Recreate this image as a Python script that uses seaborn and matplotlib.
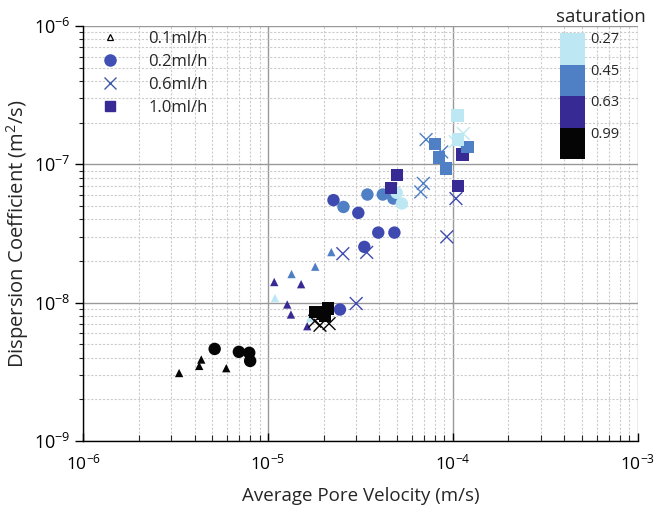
import numpy as np
import pandas as pd
import matplotlib
matplotlib.use("Agg")
import matplotlib.pyplot as plt
import seaborn as sns
from matplotlib.colors import ListedColormap, BoundaryNorm
from matplotlib.lines import Line2D
from matplotlib.ticker import LogLocator, NullFormatter

# ---- data (velocity m/s, dispersion m2/s, saturation) ----
tri_v = [3.30e-6, 4.24e-6, 4.35e-6, 5.94e-6,
         1.08e-5, 1.27e-5, 1.33e-5, 1.51e-5, 1.63e-5,
         1.34e-5, 1.80e-5, 2.20e-5,
         1.09e-5, 1.69e-5]
tri_d = [3.10e-9, 3.49e-9, 3.88e-9, 3.36e-9,
         1.41e-8, 9.70e-9, 8.21e-9, 1.36e-8, 6.76e-9,
         1.61e-8, 1.82e-8, 2.32e-8,
         1.08e-8, 7.75e-9]
tri_s = [0.99, 0.99, 0.99, 0.99,
         0.63, 0.63, 0.63, 0.63, 0.63,
         0.45, 0.45, 0.45,
         0.27, 0.27]

cir_v = [5.14e-6, 6.95e-6, 7.91e-6, 8.00e-6,
         2.26e-5, 3.08e-5, 3.95e-5, 4.83e-5, 3.32e-5, 2.45e-5,
         2.56e-5, 3.45e-5, 4.18e-5, 4.77e-5,
         4.97e-5, 5.30e-5]
cir_d = [4.63e-9, 4.41e-9, 4.34e-9, 3.79e-9,
         5.51e-8, 4.46e-8, 3.21e-8, 3.21e-8, 2.53e-8, 8.92e-9,
         4.92e-8, 6.05e-8, 6.05e-8, 5.66e-8,
         6.22e-8, 5.21e-8]
cir_s = [0.99, 0.99, 0.99, 0.99,
         0.63, 0.63, 0.63, 0.63, 0.63, 0.63,
         0.45, 0.45, 0.45, 0.45,
         0.27, 0.27]

x_v = [1.79e-5, 1.91e-5, 2.14e-5,
       3.00e-5, 2.54e-5, 3.42e-5, 9.28e-5, 1.04e-4,
       7.17e-5, 8.71e-5, 6.93e-5, 6.71e-5,
       1.14e-4, 1.03e-4]
x_d = [7.35e-9, 6.87e-9, 7.06e-9,
       9.86e-9, 2.26e-8, 2.31e-8, 2.99e-8, 5.66e-8,
       1.51e-7, 1.23e-7, 7.28e-8, 6.32e-8,
       1.67e-7, 1.46e-7]
x_s = [0.99, 0.99, 0.99,
       0.63, 0.63, 0.63, 0.63, 0.63,
       0.45, 0.45, 0.45, 0.45,
       0.27, 0.27]

sq_v = [1.81e-5, 1.99e-5, 2.03e-5, 2.11e-5,
        4.62e-5, 5.00e-5, 1.13e-4, 1.07e-4,
        8.02e-5, 8.40e-5, 9.18e-5, 1.20e-4,
        1.06e-4, 1.07e-4]
sq_d = [8.58e-9, 8.35e-9, 7.98e-9, 9.07e-9,
        6.77e-8, 8.36e-8, 1.18e-7, 7.00e-8,
        1.40e-7, 1.12e-7, 9.34e-8, 1.34e-7,
        2.26e-7, 1.51e-7]
sq_s = [0.99, 0.99, 0.99, 0.99,
        0.63, 0.63, 0.63, 0.63,
        0.45, 0.45, 0.45, 0.45,
        0.27, 0.27]

flow_labels = ["0.1ml/h", "0.2ml/h", "0.6ml/h", "1.0ml/h"]
sat_levels = [0.27, 0.45, 0.63, 0.99]

sat_colors = {0.27: "#bde8f3", 0.45: "#4f7fc4", 0.63: "#372a95", 0.99: "#050505"}
# circles and crosses were drawn with a bluer shade for the 0.63 group
blue_colors = dict(sat_colors)
blue_colors[0.63] = "#3f4ab0"

sns.set_theme(style="white")
plt.rcParams["font.family"] = ["Open Sans", "DejaVu Sans"]
plt.rcParams["mathtext.fontset"] = "custom"
plt.rcParams["mathtext.rm"] = "Open Sans"

fig = plt.figure(figsize=(6.54, 5.15), dpi=100)
ax = fig.add_axes([0.1274, 0.1437, 0.8474, 0.8058])

groups = [
    (flow_labels[0], tri_v, tri_d, tri_s, "^", 36, sat_colors, 0),
    (flow_labels[1], cir_v, cir_d, cir_s, "o", 80, blue_colors, 0),
    (flow_labels[2], x_v, x_d, x_s, "x", 85, blue_colors, 1.0),
    (flow_labels[3], sq_v, sq_d, sq_s, "s", 80, sat_colors, 0),
]
for name, v, d, s, mk, size, pal, lw in groups:
    df = pd.DataFrame({"velocity": v, "dispersion": d, "saturation": s})
    sns.scatterplot(data=df, x="velocity", y="dispersion", hue="saturation",
                    palette=pal, marker=mk, s=size, linewidth=lw,
                    edgecolor=None if mk == "x" else "none",
                    legend=False, ax=ax, zorder=3)

ax.set_xscale("log")
ax.set_yscale("log")
ax.set_xlim(1e-6, 1e-3)
ax.set_ylim(1e-9, 1e-6)

ax.xaxis.set_major_locator(LogLocator(base=10, numticks=10))
ax.yaxis.set_major_locator(LogLocator(base=10, numticks=10))
ax.xaxis.set_minor_locator(LogLocator(base=10, subs=np.arange(2, 10), numticks=40))
ax.yaxis.set_minor_locator(LogLocator(base=10, subs=np.arange(2, 10), numticks=40))
ax.xaxis.set_minor_formatter(NullFormatter())
ax.yaxis.set_minor_formatter(NullFormatter())

ax.grid(True, which="major", color="#999999", linewidth=1.0, linestyle="-")
ax.grid(True, which="minor", color="#cccccc", linewidth=0.8, linestyle=(0, (2, 1.5)))
ax.set_axisbelow(True)

for side in ["top", "right"]:
    ax.spines[side].set_visible(False)
for side in ["left", "bottom"]:
    ax.spines[side].set_color("black")
    ax.spines[side].set_linewidth(1.0)

ax.tick_params(axis="x", which="major", direction="in", length=6, width=1,
               labelsize=12.5, pad=9, bottom=True, colors="black")
ax.tick_params(axis="x", which="minor", direction="in", length=4, width=0.8, bottom=True)
ax.tick_params(axis="y", which="major", direction="out", length=6, width=1,
               labelsize=13, pad=3, left=True, colors="black")
ax.tick_params(axis="y", which="minor", direction="out", length=3, width=0.8, left=True)

ax.set_xlabel("Average Pore Velocity (m/s)", fontsize=13.5, labelpad=10)
ax.set_ylabel("Dispersion Coefficient (m$^2$/s)", fontsize=14.5, labelpad=2)

handles = [
    Line2D([], [], marker="^", linestyle="none", markerfacecolor="white",
           markeredgecolor="black", markersize=5, markeredgewidth=0.9),
    Line2D([], [], marker="o", linestyle="none", color="#4050b5", markersize=8),
    Line2D([], [], marker="x", linestyle="none", color="#3f5ab0", markersize=8,
           markeredgewidth=1.0),
    Line2D([], [], marker="s", linestyle="none", color="#372a95", markersize=7.5),
]
ax.legend(handles, flow_labels, loc="upper left", bbox_to_anchor=(0.0, 1.012),
          frameon=False, fontsize=12, handletextpad=1.3, labelspacing=0.42,
          borderaxespad=0.2)

# discrete saturation colour bar
cax = fig.add_axes([560 / 654, 1 - 159 / 515, 25 / 654, 126 / 515])
cmap = ListedColormap([sat_colors[s] for s in sat_levels[::-1]])
norm = BoundaryNorm([0, 1, 2, 3, 4], cmap.N)
cb = fig.colorbar(plt.cm.ScalarMappable(norm=norm, cmap=cmap), cax=cax,
                  boundaries=[0, 1, 2, 3, 4])
cb.outline.set_visible(False)
cax.minorticks_off()
cb.set_ticks([3.85, 2.85, 1.85, 0.85])
cb.set_ticklabels([str(s) for s in sat_levels])
cax.tick_params(which="both", length=0, labelsize=10.5, pad=4)
fig.text(601 / 654, 1 - 17 / 515, "saturation", ha="center", va="center", fontsize=13.5)

fig.savefig("out.png", dpi=100)
